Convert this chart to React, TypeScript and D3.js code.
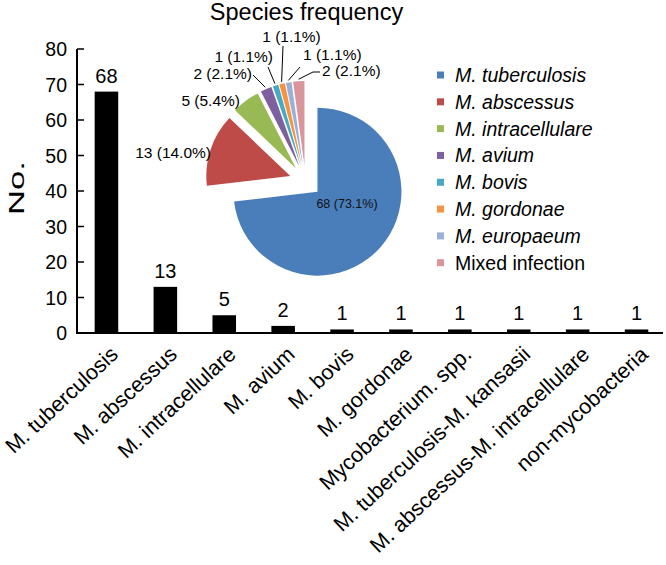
import React from "react";
import * as d3 from "d3";

const categories = [
  "M. tuberculosis",
  "M. abscessus",
  "M. intracellulare",
  "M. avium",
  "M. bovis",
  "M. gordonae",
  "Mycobacterium. spp.",
  "M. tuberculosis-M. kansasii",
  "M. abscessus-M. intracellulare",
  "non-mycobacteria",
];
const counts = [68, 13, 5, 2, 1, 1, 1, 1, 1, 1];
const yTicks = [0, 10, 20, 30, 40, 50, 60, 70, 80];

const pieNames = [
  "M. tuberculosis",
  "M. abscessus",
  "M. intracellulare",
  "M. avium",
  "M. bovis",
  "M. gordonae",
  "M. europaeum",
  "Mixed infection",
];
const pieCounts = [68, 13, 5, 2, 1, 1, 1, 2];
const piePercents = ["73.1", "14.0", "5.4", "2.1", "1.1", "1.1", "1.1", "2.1"];
const pieItalic = [true, true, true, true, true, true, true, false];
const pieColors = ["#4A7EBB", "#BE4B48", "#98B954", "#7D60A0", "#46AAC5", "#F69240", "#9BB0D8", "#D9959A"];

// label layout relative to pie centre
const pieLabelLayout: { dx: number; dy: number; anchor: string; size: number; leader: number[][] | null }[] = [
  { dx: 41.5, dy: 26.5, anchor: "middle", size: 12.5, leader: null },
  { dx: -94.5, dy: -23, anchor: "end", size: 15.5, leader: null },
  { dx: -65.5, dy: -75, anchor: "end", size: 15.5, leader: null },
  { dx: -53.5, dy: -102, anchor: "end", size: 15.5, leader: [[-52.5, -106]] },
  { dx: -32.5, dy: -119, anchor: "end", size: 15.5, leader: [[-37.5, -114]] },
  { dx: -14, dy: -139, anchor: "middle", size: 15.5, leader: [[-22.5, -135]] },
  { dx: -2.5, dy: -121, anchor: "start", size: 15.5, leader: [[-5.5, -114]] },
  { dx: 16.5, dy: -105, anchor: "start", size: 15.5, leader: [[7.5, -109], [14.5, -109]] },
];

const FONT = "'Liberation Sans', Arial, sans-serif";

export default function App() {
  const W = 666;
  const H = 565;
  const y = d3.scaleLinear().domain([0, 80]).range([333, 49]);
  const x = d3
    .scaleBand<string>()
    .domain(categories)
    .range([77, 666])
    .paddingInner(0.6)
    .paddingOuter(0.3);

  const cx = 305.5;
  const cy = 181;
  const r = 84;
  const explode = 16;
  const pie = d3
    .pie<number>()
    .sort(null)
    .value((d) => d)
    .startAngle(0)
    .endAngle(2 * Math.PI)(pieCounts);
  const arc = d3.arc<d3.PieArcDatum<number>>().innerRadius(0).outerRadius(r);

  const legendY = d3.scaleLinear().domain([0, 7]).range([75, 262.7]);

  return (
    <svg
      width={W}
      height={H}
      style={{ position: "absolute", left: 0, top: 0, background: "#fff" }}
      fontFamily={FONT}
    >
      <rect x={0} y={0} width={W} height={H} fill="#fff" />
      {/* bars */}
      {categories.map((c, i) => (
        <g key={c}>
          <rect
            x={x(c)!}
            y={y(counts[i])}
            width={x.bandwidth()}
            height={y(0) - y(counts[i])}
            fill="#000"
          />
          <text
            x={x(c)! + x.bandwidth() / 2}
            y={y(counts[i]) - 9}
            textAnchor="middle"
            fontSize={20}
            fill="#000"
          >
            {counts[i]}
          </text>
          <text
            transform={`translate(${x(c)! + x.bandwidth() / 2 + 13},${356}) rotate(-43)`}
            textAnchor="end"
            fontSize={21.5}
            fill="#000"
          >
            {c}
          </text>
        </g>
      ))}
      {/* axes */}
      <line x1={77} x2={77} y1={y(80)} y2={y(0)} stroke="#000" strokeWidth={2} />
      <line x1={76} x2={663} y1={y(0)} y2={y(0)} stroke="#000" strokeWidth={2} />
      {yTicks.map((t) => (
        <g key={t}>
          <line x1={77} x2={84} y1={y(t)} y2={y(t)} stroke="#000" strokeWidth={1.5} />
          <text x={67} y={y(t)} dy="0.36em" textAnchor="end" fontSize={19.5} fill="#000">
            {t}
          </text>
        </g>
      ))}
      <text
        transform={`translate(24,188) rotate(-90)`}
        textAnchor="middle"
        fontSize={22}
        textLength={54}
        lengthAdjust="spacingAndGlyphs"
        fill="#000"
      >
        No.
      </text>

      {/* pie title */}
      <text x={306.5} y={19.5} textAnchor="middle" fontSize={23.5} fill="#000">
        Species frequency
      </text>

      {/* pie */}
      {pie.map((p, i) => {
        const mid = (p.startAngle + p.endAngle) / 2;
        const ox = Math.sin(mid) * explode;
        const oy = -Math.cos(mid) * explode;
        return (
          <path
            key={i}
            d={arc(p) || ""}
            transform={`translate(${cx + ox},${cy + oy})`}
            fill={pieColors[i]}
          />
        );
      })}
      {pie.map((p, i) => {
        const L = pieLabelLayout[i];
        const mid = (p.startAngle + p.endAngle) / 2;
        const rr = r + explode + 2;
        let leader = null;
        if (L.leader) {
          const pts = [[Math.sin(mid) * rr, -Math.cos(mid) * rr], ...L.leader].map(
            ([a, b]) => [cx + a, cy + b] as [number, number]
          );
          leader = <path d={d3.line()(pts) || ""} fill="none" stroke="#000" strokeWidth={1} />;
        }
        return (
          <g key={"l" + i}>
            {leader}
            <text
              x={cx + L.dx}
              y={cy + L.dy}
              textAnchor={L.anchor}
              fontSize={L.size}
              fill={i === 0 ? "#111" : "#000"}
            >
              {`${pieCounts[i]} (${piePercents[i]}%)`}
            </text>
          </g>
        );
      })}

      {/* legend */}
      {pieNames.map((n, i) => (
        <g key={n}>
          <rect x={437} y={legendY(i) - 3.5} width={7} height={7} fill={pieColors[i]} />
          <text
            x={455}
            y={legendY(i)}
            dy="0.36em"
            fontSize={19.5}
            fontStyle={pieItalic[i] ? "italic" : "normal"}
            fill="#000"
          >
            {n}
          </text>
        </g>
      ))}
    </svg>
  );
}
